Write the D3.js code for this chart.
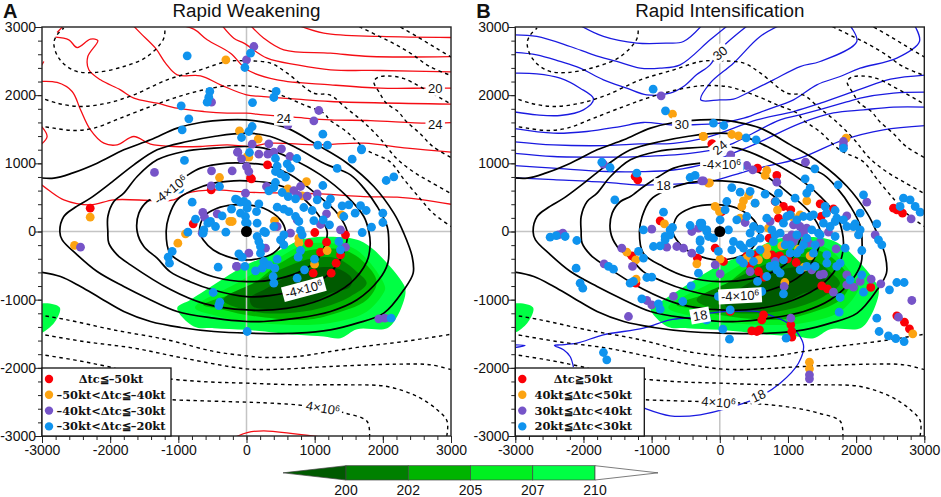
<!DOCTYPE html>
<html>
<head>
<meta charset="utf-8">
<script src="https://cdn.jsdelivr.net/npm/d3@7"></script>
<style>
  body { margin: 0; background: #fff; }
  svg { display: block; }
  text { font-family: "Liberation Sans", Arial, sans-serif; fill: #111; }
</style>
</head>
<body>
<div id="chart"></div>
<script>
// heavy solid contours, shared by both panels (outermost first)
var solidOuter = [[-3050,790],[-2826,782],[-2557,856],[-2191,1002],[-1800,1198],[-1408,1345],[-1017,1516],[-675,1599],[-284,1638],[0,1638],[254,1604],[597,1516],[1037,1271],[1477,1002],[1868,660],[2161,269],[2307,-24],[2430,-367],[2445,-611],[2308,-856],[2015,-1198],[1623,-1345],[1232,-1443],[743,-1491],[0,-1491],[-479,-1467],[-968,-1408],[-1408,-1320],[-1800,-1173],[-2142,-978],[-2435,-807],[-2729,-660],[-3050,-590]];
var solid2 = [[-2739,0],[-2680,220],[-2533,342],[-2289,489],[-1995,709],[-1653,978],[-1311,1198],[-870,1320],[-479,1394],[0,1443],[352,1394],[743,1222],[1134,1002],[1526,831],[1721,636],[1917,367],[2064,73],[2088,-220],[2073,-465],[1941,-709],[1623,-1002],[1232,-1173],[743,-1271],[254,-1320],[0,-1320],[-479,-1271],[-1017,-1173],[-1457,-978],[-1800,-807],[-2191,-587],[-2484,-342],[-2704,-122]];
var solid3 = [[-2034,0],[-2034,220],[-1946,440],[-1800,562],[-1604,807],[-1311,1051],[-919,1174],[-479,1222],[0,1247],[254,1222],[645,1076],[1086,831],[1477,513],[1721,220],[1795,0],[1814,-198],[1765,-443],[1521,-760],[1081,-1005],[590,-1127],[0,-1151],[-633,-1054],[-1122,-848],[-1702,-489],[-1897,-342],[-2020,-171]];
var solid4 = [[-1604,0],[-1579,269],[-1457,440],[-1311,513],[-1115,660],[-895,807],[-675,929],[-284,1002],[0,1002],[303,968],[645,831],[1037,538],[1330,269],[1477,0],[1447,-247],[1325,-491],[1130,-687],[738,-858],[345,-941],[0,-956],[-486,-858],[-829,-736],[-1122,-589],[-1311,-391],[-1506,-220]];
var solid5 = [[-1179,0],[-1139,220],[-1017,465],[-773,611],[-479,709],[-186,743],[0,743],[352,709],[694,587],[1037,269],[1183,0],[1152,-198],[1030,-418],[834,-565],[491,-687],[0,-736],[-486,-663],[-829,-516],[-1122,-320]];
var solid6 = [[-689,0],[-626,220],[-430,342],[-186,391],[0,391],[254,342],[499,171],[572,0],[540,-150],[393,-320],[198,-393],[0,-418],[-193,-394],[-486,-271],[-633,-125]];

// dashed contours, shared by both panels
var dashTopLeft = [[-1203,3050],[-1213,2836],[-1457,2567],[-1800,2421],[-2240,2332],[-2533,2362],[-2753,2543],[-2826,2763],[-2778,2885],[-2680,2983]];
var dashUpper1 = [[-3050,1975],[-2778,1883],[-2435,1834],[-2044,1883],[-1653,2005],[-1164,2225],[-675,2372],[-284,2494],[0,2504],[352,2470],[597,2323],[988,2029],[1222,2003],[1467,1807],[1711,1611],[1956,1367],[2200,1073],[2445,878],[2690,731],[3050,530]];
var dashUpper2 = [[-3050,1550],[-2826,1516],[-2533,1482],[-2240,1516],[-1849,1663],[-1408,1834],[-1066,1956],[-675,2068],[-284,2137],[0,2137],[156,2118],[499,2005],[841,1858],[1134,1736],[1222,1636],[1467,1465],[1760,1196],[2103,1025],[2298,780],[2543,487],[2738,267],[3050,40]];
var dashCorner1 = [[1560,3050],[1956,2858],[2200,2736],[2445,2589],[2690,2418],[3050,2270]];
var dashCorner2 = [[2170,3050],[2504,2858],[2787,2687],[3050,2530]];
var dashHook = [[3050,1840],[2592,2100],[2298,2247],[2078,2281],[1931,2262],[1868,2198],[1956,2027],[2054,1880],[2225,1758],[2347,1611],[2543,1440],[2738,1244],[3050,1060]];
var dashLower1 = [[-3050,-1222],[-2631,-1296],[-1950,-1443],[-1160,-1589],[-479,-1760],[0,-1824],[254,-1848],[743,-1833],[1232,-1760],[1721,-1687],[2308,-1614],[3050,-1500]];
var dashLower2 = [[-3050,-1501],[-2386,-1614],[-1653,-1711],[-919,-1858],[0,-2015],[499,-2020],[1232,-1980],[2210,-1946],[2699,-1956],[3050,-2040]];
var dashLower3 = [[-3050,-1800],[-2533,-1883],[-2044,-1980],[-1408,-2127],[-675,-2200],[0,-2225],[743,-2249],[1477,-2249],[2064,-2274],[2504,-2420],[2797,-2616],[2944,-2787],[2929,-3050]];
var dashLower4 = [[-1700,-2440],[-1090,-2469],[0,-2504],[352,-2518],[743,-2543],[1120,-2592],[1452,-2665],[1770,-2787],[1804,-3050]];

// shaded levels below 210, 207, 205, 202 and 200
var shade210 = [[-1017,-1125],[-821,-1002],[-479,-782],[0,-489],[345,-345],[540,-247],[834,-110],[1225,-76],[1623,-122],[1868,-269],[2308,-782],[2332,-905],[2210,-1247],[2064,-1418],[1623,-1433],[1379,-1565],[1134,-1540],[743,-1516],[0,-1443],[-479,-1418],[-773,-1394]];
var shade207 = [[-755,-1117],[-144,-760],[345,-467],[834,-198],[1225,-171],[1617,-271],[2032,-809],[2007,-907],[1763,-1176],[1323,-1323],[834,-1372],[0,-1323],[-486,-1225]];
var shade205 = [[-633,-1079],[0,-834],[491,-467],[834,-296],[1421,-271],[1715,-443],[1910,-736],[1763,-1005],[1225,-1225],[834,-1298],[0,-1225],[-438,-1127]];
var shade202 = [[-340,-1005],[148,-736],[589,-516],[981,-394],[1323,-394],[1617,-589],[1763,-760],[1519,-956],[1078,-1127],[589,-1200],[100,-1176]];
var shade200 = [[51,-980],[296,-834],[638,-638],[981,-540],[1323,-540],[1543,-687],[1519,-809],[1225,-907],[932,-1054],[540,-1127],[100,-1103]];
var shadePatch = [[-3050,-1076],[-2739,-1115],[-2826,-1345],[-3050,-1490]];

// wind shear contours of panel A
var redLines = [
  [[-2778,2919],[-2655,3050]],
  [[-2802,2851],[-2606,2812],[-2484,2699],[-2289,2822],[-2181,2802],[-2328,2567],[-2313,2372],[-2142,2225],[-1849,2078],[-1653,1956],[-1311,1883],[-1017,1809],[-626,1760],[-284,1736],[0,1736],[254,1711],[694,1677],[1232,1638],[1819,1628],[2646,1589],[3050,1599]],
  [[-3050,2200],[-2778,2186],[-2558,2054],[-2435,1785],[-2289,1491],[-2093,1296],[-1897,1271],[-1653,1394],[-1408,1281],[-1066,1247],[-675,1247],[-284,1271],[59,1247],[352,1296],[1037,1271],[1721,1296],[2357,1222],[3050,1159]],
  [[-3050,719],[-2875,587],[-2680,465],[-2289,391],[-1946,465],[-1360,455],[-1066,465],[-870,562],[-479,611],[0,577],[1086,553],[1721,513],[2210,504],[2592,465],[3050,391]],
  [[694,3050],[1134,2910],[1965,2861],[3050,2846]],
  [[-381,3050],[-186,2836],[-39,2763],[303,2543],[743,2445],[1232,2372],[1965,2362],[3050,2342]],
  [[34,3050],[254,2836],[547,2665],[1232,2616],[1819,2567],[3050,2567]],
  [[-1105,3050],[-773,2968],[-577,2812],[-235,2616],[10,2372],[450,2225],[1232,2152],[1965,2103],[2650,2103],[3050,2103]],
  [[-1692,3050],[-1555,2910],[-1335,2690],[-1188,2470],[-1017,2298],[-675,2284],[-381,2152],[0,2005],[254,1980],[743,1941],[1232,1907],[3050,1868]],
  [[-3050,1589],[-2925,1394],[-3050,1247]],
  [[-2973,2494],[-3050,2372]],
  [[-235,-3050],[10,-2949],[254,-2924],[743,-2973],[1379,-3050]]
];

// wind shear contours of panel B
var blueLines = [
  [[-2098,3050],[-1707,2861],[-1218,2763],[-778,2763],[-533,2787],[-240,3050]],
  [[-3050,2885],[-2685,2861],[-2196,2714],[-1853,2592],[-1511,2494],[-1169,2396],[-875,2396],[-582,2445],[-142,2812],[152,3050]],
  [[-3050,2631],[-2685,2592],[-2342,2494],[-2049,2396],[-1707,2225],[-1365,2103],[-1071,2005],[-729,2029],[-533,2127],[-342,2298],[-142,2445],[0,2665],[445,3050]],
  [[-3050,2322],[-2685,2313],[-2342,2249],[-2049,2102],[-1853,1946],[-2000,1785],[-2342,1702],[-2685,1711],[-3050,1760]],
  [[1888,3050],[2010,2787],[1472,2494],[1178,2420],[787,2225],[445,2054],[200,1941],[0,1932],[-279,1930],[-142,2176],[200,2469],[592,2861],[934,3050]],
  [[-3050,1516],[-2440,1442],[-1951,1467],[-1462,1540],[-1120,1599],[-729,1565],[-435,1565],[0,1589],[352,1662],[689,1785],[1081,1932],[1423,2152],[1765,2274],[2059,2396],[2597,2543],[2929,2787],[2841,3050]],
  [[-3050,1320],[-2440,1270],[-1660,1260],[-1169,1284],[-680,1293],[-240,1367],[0,1440],[543,1636],[1081,1760],[1477,1882],[2064,2088],[2504,2235],[3050,2298]],
  [[-3050,1150],[-2440,1100],[-1660,1090],[-1169,1098],[-440,1147],[0,1220],[196,1293],[885,1636],[1178,1711],[1860,1900],[2059,1956],[2548,2029],[3050,2044]],
  [[-3050,970],[-2440,930],[-1660,880],[-1169,878],[-680,902],[-191,1000],[250,1171],[543,1293],[1178,1587],[1667,1739],[2108,1785],[2548,1824],[3050,1824]],
  [[-3050,790],[-2440,760],[-1660,720],[-1169,682],[-440,707],[-142,731],[445,902],[1178,1076],[1814,1345],[2401,1491],[3050,1555]],
  [[-3050,-1663],[-2856,-1672],[-3050,-1711]],
  [[-2147,-1990],[-2196,-1834],[-2293,-1736],[-2425,-1672],[-2342,-1663],[-2098,-1638],[-1707,-1516],[-1120,-1418],[-729,-1296],[-386,-1257],[-142,-1198],[103,-1173],[543,-1173],[787,-1247],[1032,-1369],[1227,-1663],[1154,-1932],[885,-2225],[543,-2445],[200,-2567],[-288,-2689],[-729,-2704],[-1071,-2606],[-1300,-2500]]
];

// storm positions, panel A (rapid weakening)
var redA = [[-2293,342],[-518,611],[-782,112],[59,782],[308,978],[73,773],[1002,-15],[1452,-49],[914,-171],[1174,-156],[1086,-303],[1379,-342],[1315,-465],[978,-611],[1242,-611]];
var orangeA = [[-303,2518],[-103,1477],[-396,792],[-2293,210],[-245,147],[-895,-34],[10,1100],[171,1355],[34,1090],[880,733],[606,626],[817,523],[1394,244],[411,156],[-210,147],[768,-98],[-2523,-205],[-1007,-171],[768,-171],[1183,-279],[998,-479]];
var purpleA = [[0,2518],[-513,1897],[-1350,866],[-132,1164],[-73,1066],[-513,890],[-210,890],[0,953],[-518,670],[-15,562],[-641,279],[-616,210],[-430,259],[-650,-24],[108,2714],[1061,1775],[988,1623],[606,1560],[328,1286],[83,1281],[-127,1164],[181,1134],[401,1164],[513,1213],[636,1100],[313,1134],[34,880],[293,660],[694,601],[792,660],[890,518],[758,528],[1037,552],[1174,259],[1086,103],[1379,24],[645,-24],[743,171],[450,73],[-2435,-230],[-142,-513],[34,-318],[1452,-230],[279,-244],[-147,-513],[1941,-1281],[2029,-1271]];
var blueA = [[-870,2577],[-24,2406],[-538,2054],[-553,1971],[-577,1897],[-958,1843],[-846,1653],[-944,1491],[-73,1379],[34,1467],[-910,1042],[-978,621],[-396,660],[-797,430],[-161,474],[-88,430],[10,342],[-220,328],[-357,230],[-748,181],[-528,147],[-455,73],[-626,24],[-860,-10],[-15,220],[10,122],[-303,-10],[-636,-24],[-567,122],[59,2616],[435,2054],[401,1966],[88,1892],[83,1540],[1120,1428],[1046,1267],[1188,1267],[1687,1213],[1687,1198],[1550,1061],[738,1071],[1330,925],[2049,748],[2161,802],[44,1159],[425,1071],[597,993],[450,958],[425,880],[499,846],[572,797],[645,929],[425,719],[401,645],[328,597],[523,572],[611,513],[719,479],[1120,675],[1037,464],[1232,479],[1183,391],[1403,376],[1501,391],[1673,381],[1756,308],[1594,269],[1428,220],[2000,269],[2000,132],[1834,64],[1697,-15],[841,352],[963,308],[988,161],[1218,98],[1125,171],[450,357],[548,328],[621,293],[719,220],[768,147],[-137,465],[-39,440],[181,406],[147,293],[10,406],[-88,269],[-15,132],[156,122],[279,-15],[401,73],[792,15],[-1090,-293],[-1149,-377],[-1130,-465],[-416,-523],[-24,-513],[-112,-328],[-64,-377],[-489,-895],[-391,-1037],[-406,-1086],[10,-1467],[2122,-1271],[181,-147],[205,-220],[205,-318],[254,-440],[328,-489],[416,-538],[230,-538],[132,-577],[391,-660],[401,-758],[450,-406],[499,-122],[548,-196],[792,-279],[758,-377],[998,-406],[851,-562],[743,-685],[1355,-147],[1379,-269],[254,0],[548,-49],[817,-49],[156,-73]];

// storm positions, panel B (rapid intensification)
var redB = [[-1203,758],[-1242,807],[-875,156],[-117,1286],[-108,1286],[553,929],[836,822],[2548,342],[2597,318],[2680,269],[812,440],[934,367],[1472,406],[1667,332],[861,196],[1487,220],[29,293],[1042,318],[-1291,-357],[-1232,-758],[-328,-391],[152,-1173],[641,-1222],[616,-1296],[469,-1457],[543,-1467],[582,-1443],[1042,-1369],[1056,-1467],[1056,-1550],[2597,-1237],[2709,-1330],[2782,-1428],[1496,-797],[1579,-841],[2215,-821],[567,-587],[650,-670],[445,-489],[763,-342],[880,-357],[993,-401],[1120,-455],[396,-357],[-68,-245],[54,-440],[518,-342],[724,-98]];
var orangeB = [[-694,1721],[-244,1394],[-166,709],[-812,112],[1853,1369],[-240,1394],[176,1423],[274,1403],[689,895],[665,822],[-152,714],[421,528],[347,450],[323,367],[-68,367],[-5,293],[298,196],[518,416],[846,318],[1276,450],[1056,220],[714,49],[1178,245],[-1364,-303],[-1232,-416],[-1227,-699],[-337,-474],[2831,-1501],[1315,-1917],[1315,-2015],[954,-748],[689,-245],[909,-210],[1154,-259],[1325,-357],[1237,-523],[567,-416],[5,-406],[396,-391],[689,-342]];
var purpleB = [[-861,1990],[-1707,988],[-264,743],[-998,34],[-411,0],[-313,49],[-2303,-24],[-2367,-49],[29,1198],[1814,1320],[1814,1262],[161,1125],[396,968],[484,905],[-240,743],[1257,1017],[836,724],[2156,430],[2807,186],[1081,98],[738,147],[1178,73],[1276,49],[2279,-49],[1863,230],[1594,-10],[372,132],[-1438,-244],[-1697,-474],[-1281,-513],[-1071,-1012],[-998,-1076],[-680,-953],[-1340,-1247],[-778,-230],[-631,-220],[-533,-244],[-411,-318],[1042,-1271],[2621,-1257],[2817,-1012],[1315,-2161],[1315,-2103],[2362,-768],[2220,-699],[2059,-733],[1961,-817],[1863,-782],[1863,-636],[1667,-890],[1472,-636],[1521,-626],[1350,-562],[1706,-254],[1472,-161],[1247,-161],[445,-587],[5,-621],[-68,-489],[944,-807],[812,-440],[1130,-73],[1227,-24],[1056,-49],[1081,-147],[1301,-171],[983,-98]];
var blueB = [[-978,2088],[-797,1770],[-1731,1017],[-1609,939],[-1218,856],[-1540,465],[-826,284],[-435,792],[-362,822],[-1120,24],[-694,59],[-435,88],[-264,122],[-191,0],[-2489,-83],[-2400,-60],[-2269,-73],[-2098,-132],[-802,-73],[-729,24],[-289,-122],[-93,1589],[59,1555],[386,1374],[533,1345],[298,934],[1394,919],[1252,773],[1736,685],[176,645],[298,577],[445,587],[1325,636],[1276,562],[665,548],[1105,489],[817,440],[861,562],[2108,538],[1814,1222],[103,440],[78,318],[5,171],[1545,367],[1692,308],[1374,245],[1565,269],[518,416],[689,196],[1032,245],[1325,220],[2059,269],[1985,112],[1863,73],[1692,147],[2303,112],[2059,24],[2694,489],[2792,464],[2866,367],[2939,284],[2645,367],[-973,-220],[-875,-210],[-1193,-293],[-1120,-391],[-2108,-538],[-1633,-513],[-1560,-553],[-2049,-758],[-2010,-831],[-1267,-733],[-1315,-758],[-1071,-675],[-998,-670],[-421,-797],[-543,-1027],[-1144,-988],[-900,-1061],[-875,-1139],[-200,-1296],[-1707,-1775],[-1658,-1883],[-313,-611],[-289,-269],[-289,-147],[-20,-953],[152,-1149],[44,-1433],[142,-1579],[-191,-1296],[553,-733],[616,-880],[934,-914],[973,-1565],[1765,-968],[1751,-1183],[2108,-890],[2303,-1271],[2337,-1467],[2474,-1531],[2582,-1570],[2704,-1614],[2489,-856],[2597,-748],[2704,-748],[1839,-245],[2083,-279],[2377,-196],[2328,-122],[2083,-636],[1765,-465],[1398,-513],[347,-465],[592,-269],[812,-489],[885,-611],[1227,-196],[787,-147],[445,-171],[298,-416],[200,-147],[-20,-293],[1374,-318],[1178,-562],[1032,-318],[1570,-342],[1716,-513],[1912,-709],[983,220],[1130,171],[1227,220],[934,122],[763,24],[885,-24],[592,34],[494,73],[1350,24],[1447,-24],[1521,122],[1716,196],[1814,171],[1960,73],[2034,-49],[1619,73],[396,220],[249,171],[127,24],[-288,122],[-191,24],[-166,-73],[-264,73],[-93,-98],[298,-196],[494,-147],[445,-24],[592,-98],[812,-49],[1032,-196],[1130,-49],[1276,-98],[1398,-196],[1472,-49],[1692,-73],[1178,-269],[934,-416],[836,-562],[738,-513],[445,-318],[347,-245],[176,-269],[494,-440],[689,-660],[1276,-513],[1570,-465],[1130,-318],[958,-196],[-802,-122],[-729,-49]];

var legendA = ["Δtc≦–50kt", "–50kt<Δtc≦–40kt", "–40kt<Δtc≦–30kt", "–30kt<Δtc≦–20kt"];
var legendB = ["Δtc≧50kt", "40kt≦Δtc<50kt", "30kt≦Δtc<40kt", "20kt≦Δtc<30kt"];
var barLevels = [200, 202, 205, 207, 210];
var barColors = ["#005a00", "#008000", "#00b400", "#00f020", "#00ff44", "#ffffff"];
var axisTicks = [-3000, -2000, -1000, 0, 1000, 2000, 3000];

var dotColors = { red: "#fb0007", orange: "#fca311", purple: "#7654c8", blue: "#0f93ee" };
var width = 941, height = 497, plotSize = 409, plotTop = 27;

var svg = d3.select("#chart").append("svg")
    .attr("width", width)
    .attr("height", height);

var x = d3.scaleLinear().domain([-3000, 3000]).range([0, plotSize]);
var y = d3.scaleLinear().domain([-3000, 3000]).range([plotSize, 0]);

var lineOpen = d3.line().x(function (d) { return x(d[0]); }).y(function (d) { return y(d[1]); })
    .curve(d3.curveCatmullRom.alpha(0.5));
var lineClosed = d3.line().x(function (d) { return x(d[0]); }).y(function (d) { return y(d[1]); })
    .curve(d3.curveCatmullRomClosed.alpha(0.5));

function drawPanel(left, id, letter, title, lines, lineColor, dots, legend, legendX) {
    var g = svg.append("g").attr("transform", "translate(" + left + "," + plotTop + ")");
    svg.append("clipPath").attr("id", id).append("rect").attr("width", plotSize).attr("height", plotSize);
    var plot = g.append("g").attr("clip-path", "url(#" + id + ")");

    // shading
    [[shade210, 4], [shade207, 3], [shade205, 2], [shade202, 1], [shade200, 0]].forEach(function (s) {
        plot.append("path").attr("d", lineClosed(s[0])).style("fill", barColors[s[1]]);
    });
    plot.append("path").attr("d", lineClosed(shadePatch)).style("fill", barColors[4]);

    // reference lines through the storm centre
    plot.append("line").attr("x1", x(0)).attr("x2", x(0)).attr("y1", 0).attr("y2", plotSize)
        .style("stroke", "#c4c4c4").style("stroke-width", 1.5);
    plot.append("line").attr("x1", 0).attr("x2", plotSize).attr("y1", y(0)).attr("y2", y(0))
        .style("stroke", "#c4c4c4").style("stroke-width", 1.5);

    // wind shear contours
    lines.forEach(function (l) {
        plot.append("path").attr("d", lineOpen(l))
            .style("fill", "none").style("stroke", lineColor).style("stroke-width", 1.3);
    });

    // dashed contours
    [dashTopLeft, dashUpper1, dashUpper2, dashCorner1, dashCorner2, dashHook, dashLower1, dashLower2, dashLower3, dashLower4].forEach(function (l) {
        plot.append("path").attr("d", lineOpen(l))
            .style("fill", "none").style("stroke", "#000").style("stroke-width", 1.4)
            .style("stroke-dasharray", "3.5 3.5");
    });

    // solid contours
    plot.append("path").attr("d", lineOpen(solidOuter))
        .style("fill", "none").style("stroke", "#000").style("stroke-width", 1.7);
    [solid2, solid3, solid4, solid5, solid6].forEach(function (l) {
        plot.append("path").attr("d", lineClosed(l))
            .style("fill", "none").style("stroke", "#000").style("stroke-width", 1.7);
    });

    // storm positions
    dots.forEach(function (set) {
        plot.selectAll("dot")
            .data(set[0])
            .enter()
            .append("circle")
            .attr("cx", function (d) { return x(d[0]); })
            .attr("cy", function (d) { return y(d[1]); })
            .attr("r", 4.4)
            .style("fill", dotColors[set[1]]);
    });
    plot.append("circle").attr("cx", x(0)).attr("cy", y(0)).attr("r", 5.5).style("fill", "#000");

    // axes
    var yAxis = g.append("g").call(d3.axisLeft(y).tickValues(axisTicks).tickSize(7).tickFormat(String));
    var xAxis = g.append("g").attr("transform", "translate(0," + plotSize + ")")
        .call(d3.axisBottom(x).tickValues(axisTicks).tickSize(7).tickFormat(String));
    var minor = d3.range(-3000, 3001, 200);
    g.append("g").call(d3.axisLeft(y).tickValues(minor).tickSize(4).tickFormat(""));
    g.append("g").attr("transform", "translate(0," + plotSize + ")")
        .call(d3.axisBottom(x).tickValues(minor).tickSize(4).tickFormat(""));
    g.selectAll(".domain").remove();
    g.selectAll(".tick line").style("stroke", "#222").style("stroke-width", 1);
    yAxis.selectAll("text").style("font-size", "14px").attr("x", -6);
    xAxis.selectAll("text").style("font-size", "14px").attr("y", 9);
    g.append("rect").attr("width", plotSize).attr("height", plotSize)
        .style("fill", "none").style("stroke", "#222").style("stroke-width", 1.4);

    // legend
    var lg = g.append("g").attr("transform", "translate(0," + (plotSize - 68) + ")");
    lg.append("rect").attr("width", 129).attr("height", 68)
        .style("fill", "#fff").style("stroke", "#111").style("stroke-width", 1.3);
    legend.forEach(function (t, i) {
        lg.append("circle").attr("cx", 7).attr("cy", 11 + i * 15.8).attr("r", 4.2)
            .style("fill", dotColors[["red", "orange", "purple", "blue"][i]]);
        lg.append("text").attr("x", legendX).attr("y", 15 + i * 15.8)
            .style("text-anchor", "middle")
            .style("font-family", "'DejaVu Serif', serif")
            .style("font-weight", "bold")
            .style("font-size", "11.4px")
            .text(t);
    });

    svg.append("text").attr("x", left + plotSize / 2).attr("y", 17)
        .style("text-anchor", "middle").style("font-size", "18.8px").text(title);
    svg.append("text").attr("x", left - 39).attr("y", 18.3)
        .style("font-size", "20px").style("font-weight", "bold").text(letter);
}

// contour label with a white backing box, placed in data units
function addLabel(left, text, dx, dy, angle, power) {
    var g = svg.append("g")
        .attr("transform", "translate(" + (left + x(dx)) + "," + (plotTop + y(dy)) + ") rotate(" + angle + ")");
    var bg = g.append("rect").style("fill", "#fff");
    var t = g.append("text").attr("y", 4.5).style("text-anchor", "middle").style("font-size", "13px").text(text);
    if (power) {
        t.append("tspan").attr("dy", -4).style("font-size", "8.5px").text("6");
    }
    var w = t.node().getComputedTextLength() + 5;
    bg.attr("x", -w / 2).attr("y", -7.5).attr("width", w).attr("height", 15);
}

drawPanel(42, "clipA", "A", "Rapid Weakening", redLines, "#f50d14",
    [[redA, "red"], [orangeA, "orange"], [purpleA, "purple"], [blueA, "blue"]], legendA, 69);
drawPanel(515.3, "clipB", "B", "Rapid Intensification", blueLines, "#1a1ae0",
    [[redB, "red"], [orangeB, "orange"], [purpleB, "purple"], [blueB, "blue"]], legendB, 68);

addLabel(42, "-4×10", -1115, 611, -38, true);
addLabel(42, "24", 547, 1663, 0);
addLabel(42, "20", 2768, 2100, 0);
addLabel(42, "24", 2768, 1572, 0);
addLabel(42, "-4×10", 841, -846, -15, true);
addLabel(42, "4×10", 1120, -2592, 10, true);

addLabel(515.3, "30", -557, 1565, 0);
addLabel(515.3, "30", 5, 2616, -40);
addLabel(515.3, "24", 0, 1230, -40);
addLabel(515.3, "-4×10", 29, 985, 0, true);
addLabel(515.3, "18", -826, 672, 0);
addLabel(515.3, "18", -289, -1232, -10);
addLabel(515.3, "-4×10", 298, -944, -3, true);
addLabel(515.3, "18", 567, -2411, -25);
addLabel(515.3, "4×10", -20, -2508, 5, true);

// colour bar
var barX = d3.scalePoint().domain(barLevels).range([346, 595]);
var barTop = 465.7, barBottom = 480, barMid = (barTop + barBottom) / 2, tip = 63;
var bar = svg.append("g");
bar.append("path")
    .attr("d", "M" + barX(200) + "," + barTop + "L" + (barX(200) - tip) + "," + barMid + "L" + barX(200) + "," + barBottom + "Z")
    .style("fill", barColors[0]).style("stroke", "#444").style("stroke-width", 0.7);
barLevels.slice(0, -1).forEach(function (d, i) {
    bar.append("rect").attr("x", barX(d)).attr("y", barTop)
        .attr("width", barX(barLevels[i + 1]) - barX(d)).attr("height", barBottom - barTop)
        .style("fill", barColors[i + 1]).style("stroke", "#444").style("stroke-width", 0.7);
});
bar.append("path")
    .attr("d", "M" + barX(210) + "," + barTop + "L" + (barX(210) + tip) + "," + barMid + "L" + barX(210) + "," + barBottom + "Z")
    .style("fill", barColors[5]).style("stroke", "#444").style("stroke-width", 0.7);
barLevels.forEach(function (d) {
    bar.append("text").attr("x", barX(d)).attr("y", 495)
        .style("text-anchor", "middle").style("font-size", "14px").text(d);
});
</script>
</body>
</html>
